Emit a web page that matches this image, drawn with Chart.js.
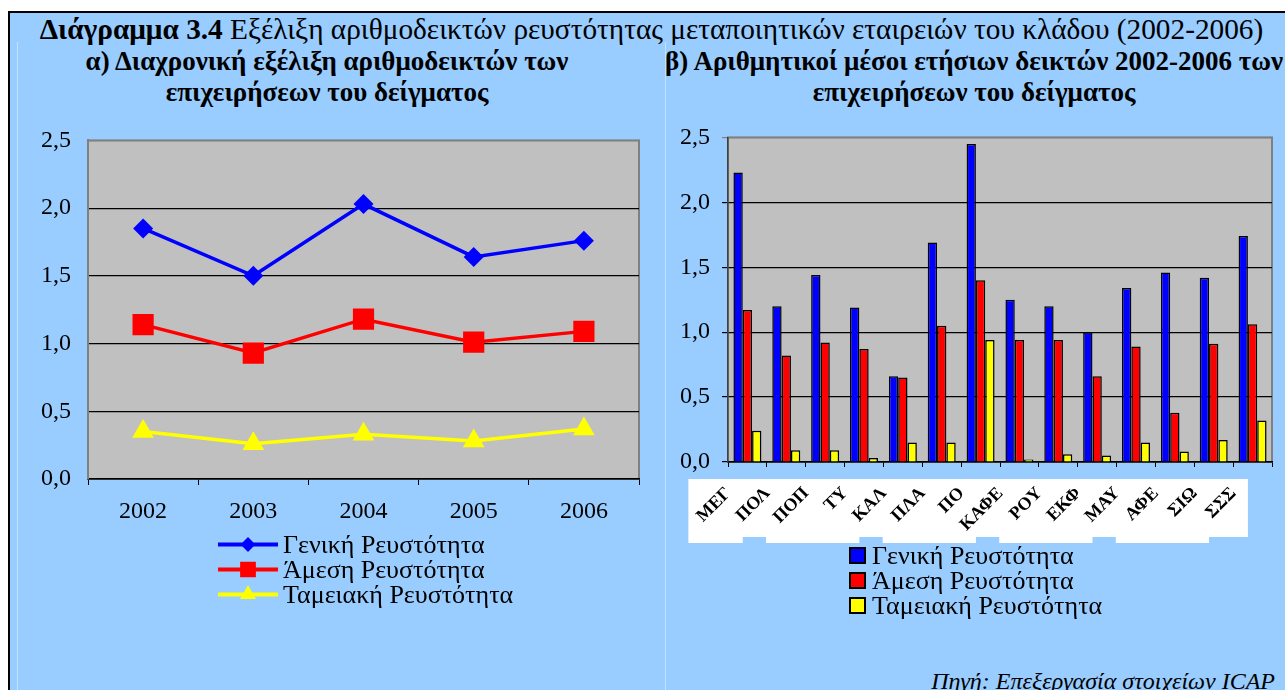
<!DOCTYPE html>
<html>
<head>
<meta charset="utf-8">
<script src="https://cdn.jsdelivr.net/npm/chart.js@4.4.1/dist/chart.umd.min.js"></script>
<style>
    html, body { margin: 0; padding: 0; width: 1285px; height: 690px; overflow: hidden; background: #fff;
        font-family: "Liberation Serif", "Times New Roman", serif; color: #000; }
    #frame { position: absolute; left: 8px; top: 11px; width: 1320px; height: 720px; border: 2px solid #000; background: #99CCFF; }
    .edge { position: absolute; top: 42px; width: 1px; height: 660px; background: #C4E1FF; }
    .txt { position: absolute; white-space: nowrap; }
    canvas { position: absolute; }
    .legend { position: absolute; font-size: 26px; line-height: 25px; }
    .legend .row { display: flex; align-items: center; height: 25px; }
    .legend .row canvas { position: static; }
    .legend .box { width: 13px; height: 13px; border: 2px solid #000; margin-right: 6px; }
</style>
</head>
<body>
<div id="frame"></div>
<div class="edge" style="left:17px;"></div>
<div class="edge" style="left:665px;"></div>

<div class="txt" style="left:0; width:1303px; top:13px; text-align:center; font-size:29.3px; line-height:32px;">
    <b>Διάγραμμα 3.4</b> Εξέλιξη αριθμοδεικτών ρευστότητας μεταποιητικών εταιρειών του κλάδου (2002-2006)
</div>
<div class="txt" style="left:-73px; width:800px; top:46px; text-align:center; font-size:27px; line-height:31px; font-weight:bold;">
    α) Διαχρονική εξέλιξη αριθμοδεικτών των<br>επιχειρήσεων του δείγματος
</div>
<div class="txt" style="left:574px; width:800px; top:46px; text-align:center; font-size:27px; line-height:31px; font-weight:bold;">
    β) Αριθμητικοί μέσοι ετήσιων δεικτών 2002-2006 των<br>επιχειρήσεων του δείγματος
</div>

<canvas id="trend-chart" width="660" height="431" style="left:0; top:109px;"></canvas>
<canvas id="avg-chart" width="625" height="444" style="left:660px; top:111px;"></canvas>

<div class="legend" id="trend-legend" style="left:216px; top:532px;"></div>
<div class="legend" id="avg-legend" style="left:849px; top:543px;"></div>

<div class="txt" style="right:10px; top:669px; font-size:24px; line-height:24px; font-style:italic;">
    Πηγή: Επεξεργασία στοιχείων ICAP
</div>

<script>
// Series names
const seriesNames = ['Γενική Ρευστότητα', 'Άμεση Ρευστότητα', 'Ταμειακή Ρευστότητα'];

// (α) yearly evolution
const years = ['2002', '2003', '2004', '2005', '2006'];
const genikiTrend = [1.85, 1.50, 2.03, 1.64, 1.76];
const amesiTrend = [1.14, 0.93, 1.18, 1.01, 1.09];
const tameiakiTrend = [0.35, 0.26, 0.33, 0.28, 0.37];

// (β) 2002-2006 averages per firm
const firms = ['ΜΕΓ', 'ΠΟΛ', 'ΠΟΠ', 'ΤΥ', 'ΚΑΛ', 'ΠΛΑ', 'ΠΟ', 'ΚΑΦΕ', 'ΡΟΥ', 'ΕΚΦ', 'ΜΑΥ', 'ΑΦΕ', 'ΣΙΩ', 'ΣΣΣ'];
const genikiAvg = [2.23, 1.20, 1.44, 1.19, 0.66, 1.69, 2.45, 1.25, 1.20, 1.00, 1.34, 1.46, 1.42, 1.74];
const amesiAvg = [1.17, 0.82, 0.92, 0.87, 0.65, 1.05, 1.40, 0.94, 0.94, 0.66, 0.89, 0.38, 0.91, 1.06];
const tameiakiAvg = [0.24, 0.09, 0.09, 0.03, 0.15, 0.15, 0.94, 0.02, 0.06, 0.05, 0.15, 0.08, 0.17, 0.32];

// Y axis ticks
const yMax = 2.5;
const yStep = 0.5;

const serif = '"Liberation Serif", "Times New Roman", serif';
const colors = ['#0000FF', '#FF0000', '#FFFF00'];

// grey plot area with grey frame
const plotArea = {
    id: 'plotArea',
    beforeDraw(chart) {
        const { ctx, chartArea: a } = chart;
        ctx.save();
        ctx.fillStyle = '#C0C0C0';
        ctx.fillRect(a.left, a.top, a.width, a.height);
        ctx.strokeStyle = '#808080';
        ctx.lineWidth = 2;
        ctx.strokeRect(a.left, a.top, a.width, a.height);
        ctx.restore();
    }
};

// white boxes behind the rotated firm labels
const labelBoxes = {
    id: 'labelBoxes',
    beforeDraw(chart) {
        const x = chart.scales.x;
        const ctx = chart.ctx;
        const cw = x.width / x.ticks.length;
        ctx.save();
        ctx.fillStyle = '#FFFFFF';
        x.ticks.forEach((t, i) => {
            const c = x.getPixelForTick(i);
            const drop = (i % 3 === 1) ? 0 : 6;
            ctx.fillRect(c - 1.52 * cw, x.top + 17, 1.4 * cw, 58 + drop);
        });
        ctx.restore();
    }
};

const commaFmt = v => v.toFixed(1).replace('.', ',');

function gridColor(c) {
    return c.tick && Math.abs(c.tick.value - yMax) < 1e-6 ? '#808080' : '#000000';
}

// Line chart
const trendChart = new Chart(document.getElementById('trend-chart'), {
    type: 'line',
    data: {
        labels: years,
        datasets: [
            { label: seriesNames[0], data: genikiTrend, borderColor: colors[0], backgroundColor: colors[0],
              borderWidth: 3.5, pointStyle: 'rectRot', pointRadius: 10, pointBorderWidth: 0 },
            { label: seriesNames[1], data: amesiTrend, borderColor: colors[1], backgroundColor: colors[1],
              borderWidth: 3.5, pointStyle: 'rect', pointRadius: 15, pointBorderWidth: 0 },
            { label: seriesNames[2], data: tameiakiTrend, borderColor: colors[2], backgroundColor: colors[2],
              borderWidth: 3.5, pointStyle: 'triangle', pointRadius: 12.5, pointBorderWidth: 0 }
        ]
    },
    options: {
        responsive: false,
        animation: false,
        layout: { autoPadding: false, padding: { top: 20, right: 21, left: 0, bottom: 0 } },
        plugins: { legend: { display: false }, tooltip: { enabled: false } },
        scales: {
            x: {
                offset: true,
                grid: { offset: true, drawOnChartArea: false, tickLength: 6, color: '#000' },
                border: { color: '#000', width: 1.5 },
                ticks: { font: { family: serif, size: 24 }, color: '#000', padding: 12 },
                afterFit(scale) { scale.height = 61; }
            },
            y: {
                min: 0, max: yMax,
                grid: { drawTicks: false, color: gridColor, lineWidth: 1.2 },
                border: { color: '#808080', width: 2 },
                ticks: { stepSize: yStep, callback: commaFmt, font: { family: serif, size: 24 }, color: '#000', padding: 17 },
                afterFit(scale) { scale.width = 88; }
            }
        }
    },
    plugins: [plotArea]
});

// Bar chart
const avgChart = new Chart(document.getElementById('avg-chart'), {
    type: 'bar',
    data: {
        labels: firms,
        datasets: [
            { label: seriesNames[0], data: genikiAvg, backgroundColor: colors[0] },
            { label: seriesNames[1], data: amesiAvg, backgroundColor: colors[1] },
            { label: seriesNames[2], data: tameiakiAvg, backgroundColor: colors[2] }
        ]
    },
    options: {
        responsive: false,
        animation: false,
        layout: { autoPadding: false, padding: { top: 22, right: 13, left: 0, bottom: 0 } },
        datasets: { bar: { borderColor: '#000', borderWidth: 1.5, categoryPercentage: 0.72, barPercentage: 1.0 } },
        plugins: { legend: { display: false }, tooltip: { enabled: false } },
        scales: {
            x: {
                grid: { drawOnChartArea: false, tickLength: 5, color: '#000' },
                border: { color: '#000', width: 1.5 },
                ticks: { font: { family: serif, size: 18, weight: 'bold' }, color: '#000',
                         minRotation: 45, maxRotation: 45, autoSkip: false, labelOffset: -19, padding: 16 },
                afterFit(scale) { scale.height = 93; }
            },
            y: {
                min: 0, max: yMax,
                grid: { tickLength: 6, color: gridColor, lineWidth: 1.2 },
                border: { color: '#404040', width: 1.5 },
                ticks: { stepSize: yStep, callback: commaFmt, font: { family: serif, size: 24 }, color: '#000', padding: 12 },
                afterFit(scale) { scale.width = 68; }
            }
        }
    },
    plugins: [plotArea, labelBoxes]
});

// HTML legends built from the datasets
function buildLegend(chart, el, kind) {
    chart.data.datasets.forEach(ds => {
        const row = document.createElement('div');
        row.className = 'row';
        if (kind === 'line') {
            const key = document.createElement('canvas');
            key.width = 64; key.height = 25;
            key.style.marginRight = '3px';
            const k = key.getContext('2d');
            k.strokeStyle = ds.borderColor;
            k.lineWidth = 4;
            k.beginPath(); k.moveTo(2, 12.5); k.lineTo(62, 12.5); k.stroke();
            k.fillStyle = ds.backgroundColor;
            Chart.helpers.drawPoint(k, { pointStyle: ds.pointStyle, radius: ds.pointRadius * 0.72, borderWidth: 0, rotation: 0 }, 32, 12.5);
            k.fill();
            row.appendChild(key);
        } else {
            const box = document.createElement('span');
            box.className = 'box';
            box.style.background = ds.backgroundColor;
            row.appendChild(box);
        }
        const label = document.createElement('span');
        label.textContent = ds.label;
        row.appendChild(label);
        el.appendChild(row);
    });
}

buildLegend(trendChart, document.getElementById('trend-legend'), 'line');
buildLegend(avgChart, document.getElementById('avg-legend'), 'bar');
</script>
</body>
</html>
